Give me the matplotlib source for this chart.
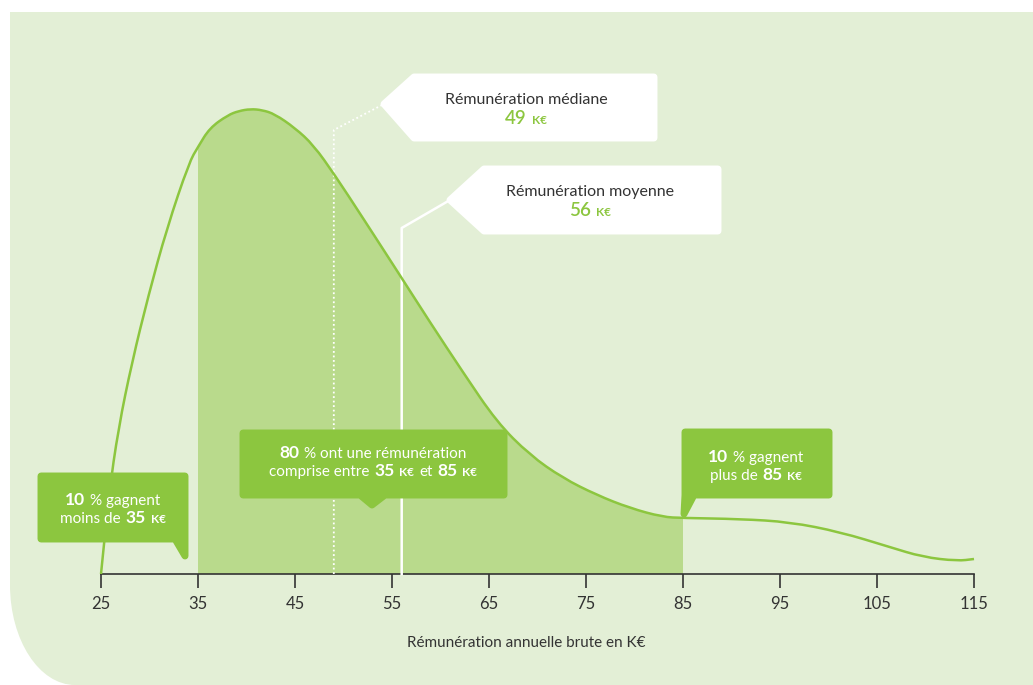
import numpy as np
import matplotlib
matplotlib.use("Agg")
import matplotlib.pyplot as plt
from matplotlib.path import Path
from matplotlib.patches import PathPatch, Polygon, Rectangle
from matplotlib.offsetbox import TextArea, HPacker, VPacker, AnnotationBbox

# Courbe de répartition des rémunérations (hauteur relative de la courbe)
salaire = [25, 25.8, 26.8, 28.2, 29.9, 31.8, 34.1, 35, 36.2, 38.1, 39.2, 40.4, 41.6,
           42.9, 45, 46.9, 49.1, 52, 55.8, 58.9, 62.3, 65.8, 69.2, 72.6, 76.1, 79.5,
           82.9, 85, 90.9, 96, 101.2, 106.3, 109.7, 113.3, 115]
densite = [0, 79, 146, 212, 279, 346, 412, 427, 446, 459, 463, 465, 464,
           460, 446, 429, 399, 356, 299, 252, 202, 152, 119, 96, 79, 66,
           57, 56, 55, 52, 42, 27, 17, 13, 15]

mediane = 49
moyenne = 56
bas, haut = 35, 85
ticks = [25, 35, 45, 55, 65, 75, 85, 95, 105, 115]

FOND = "#e3efd6"
VERT = "#8cc63f"
VERT_CLAIR = "#b9da8c"
GRIS = "#333333"
FONT = "Lato"

W, H = 1033, 685
fig = plt.figure(figsize=(W / 100, H / 100), dpi=100)
fig.patch.set_facecolor("white")

# fond vert avec le coin bas-gauche arrondi
bg = fig.add_axes([0, 0, 1, 1])
bg.set_xlim(0, W)
bg.set_ylim(H, 0)
bg.axis("off")
rx, ry = 65, 100
verts = [(10, 12), (W, 12), (W, H), (10 + rx, H),
         (10 + rx * 0.45, H), (10, H - ry * 0.45), (10, H - ry), (10, 12)]
codes = [Path.MOVETO, Path.LINETO, Path.LINETO, Path.LINETO,
         Path.CURVE4, Path.CURVE4, Path.CURVE4, Path.CLOSEPOLY]
bg.add_patch(PathPatch(Path(verts, codes), facecolor=FOND, edgecolor="none"))

ax = fig.add_axes([101 / W, (H - 574) / H, 873 / W, 562 / H])
ax.set_xlim(25, 115)
ax.set_ylim(0, 562)
ax.patch.set_alpha(0)
for s in ["left", "right", "top"]:
    ax.spines[s].set_visible(False)
ax.spines["bottom"].set_color(GRIS)
ax.spines["bottom"].set_linewidth(1.2)
ax.set_yticks([])
ax.set_xticks(ticks)
ax.tick_params(axis="x", direction="out", length=10, width=1.2, color=GRIS,
               labelsize=12, labelcolor=GRIS, pad=6)
for lab in ax.get_xticklabels():
    lab.set_family(FONT)
ax.set_xlabel("Rémunération annuelle brute en K€", fontsize=11, color=GRIS, family=FONT)
ax.xaxis.set_label_coords(0.487, -0.123)
ax.xaxis.label.set_va("center")


def px(x, y):
    # position en pixels (origine en haut à gauche) -> coordonnées données
    return ax.transData.inverted().transform((x, H - y))


def forme(points, color, z):
    pts = [px(x, y) for x, y in points]
    ax.add_patch(Polygon(pts, closed=True, facecolor=color, edgecolor=color,
                         linewidth=5, joinstyle="round", zorder=z, clip_on=False))


def ligne(parts, color):
    boxes = []
    for txt, size, weight in parts:
        boxes.append(TextArea(txt, textprops=dict(color=color, fontsize=size,
                                                  fontweight=weight, family=FONT)))
    return HPacker(children=boxes, align="baseline", pad=0, sep=3.5)


def etiquette(lignes, couleurs, x, y, sep=2):
    pack = VPacker(children=[ligne(l, c) for l, c in zip(lignes, couleurs)],
                   align="center", pad=0, sep=sep)
    ab = AnnotationBbox(pack, px(x, y), xycoords="data", frameon=False,
                        box_alignment=(0.5, 0.5), annotation_clip=False, zorder=8)
    ax.add_artist(ab)


# courbe lissée : courbes de Bézier quadratiques passant par les milieux
sal = np.array(salaire, dtype=float)
den = np.array(densite, dtype=float)
cv = [(sal[0], den[0])]
cc = [Path.MOVETO]
for i in range(1, len(sal) - 1):
    cv += [(sal[i], den[i]), ((sal[i] + sal[i + 1]) / 2, (den[i] + den[i + 1]) / 2)]
    cc += [Path.CURVE3, Path.CURVE3]
cv.append((sal[-1], den[-1]))
cc.append(Path.LINETO)

zone = PathPatch(Path(cv + [(sal[-1], 0), (sal[0], 0), (sal[0], 0)],
                      cc + [Path.LINETO, Path.LINETO, Path.CLOSEPOLY]),
                 facecolor=VERT_CLAIR, edgecolor="none", zorder=1)
ax.add_patch(zone)
zone.set_clip_path(Rectangle((bas, 0), haut - bas, 600, transform=ax.transData))
ax.add_patch(PathPatch(Path(cv, cc), fill=False, edgecolor=VERT, lw=1.8,
                       zorder=4, clip_on=False))

# médiane (pointillés) et moyenne (trait plein)
tip_med = px(384, 104)
ax.plot([mediane, mediane, tip_med[0]], [0, 444, tip_med[1]], color="white",
        lw=1.3, ls=(0, (1, 1.5)), zorder=3, clip_on=False)
tip_moy = px(450, 200)
ax.plot([moyenne, moyenne, tip_moy[0]], [0, 346, tip_moy[1]], color="white",
        lw=1.8, zorder=3, clip_on=False)

# cartouches blancs
forme([(384, 104), (414, 77), (654, 77), (654, 138), (414, 138)], "white", 5)
forme([(450, 200), (484, 169), (718, 169), (718, 231), (484, 231)], "white", 5)
etiquette([[("Rémunération médiane", 11.5, "normal")],
           [(str(mediane), 13.5, "semibold"), ("K€", 8.5, "bold")]],
          [GRIS, VERT], 526, 110)
etiquette([[("Rémunération moyenne", 11.5, "normal")],
           [(str(moyenne), 13.5, "semibold"), ("K€", 8.5, "bold")]],
          [GRIS, VERT], 590, 202)

# cartouches verts
forme([(41, 476), (185, 476), (185, 556), (175, 539), (41, 539)], VERT, 5)
forme([(243, 433), (504, 433), (504, 495), (385, 495), (372, 505), (360, 495),
       (243, 495)], VERT, 5)
forme([(685, 432), (829, 432), (829, 495), (694, 495), (684, 514), (685, 495)], VERT, 5)

blanc = ["white", "white"]
etiquette([[("10", 12.5, "bold"), ("% gagnent", 11, "normal")],
           [("moins de", 11, "normal"), (str(bas), 12.5, "bold"), ("K€", 8.5, "bold")]],
          blanc, 113, 509)
etiquette([[("80", 12.5, "bold"), ("% ont une rémunération", 11, "normal")],
           [("comprise entre", 11, "normal"), (str(bas), 12.5, "bold"), ("K€", 8.5, "bold"),
            ("et", 11, "normal"), (str(haut), 12.5, "bold"), ("K€", 8.5, "bold")]],
          blanc, 373, 462)
etiquette([[("10", 12.5, "bold"), ("% gagnent", 11, "normal")],
           [("plus de", 11, "normal"), (str(haut), 12.5, "bold"), ("K€", 8.5, "bold")]],
          blanc, 756, 466)

fig.savefig("out.png", dpi=100)
